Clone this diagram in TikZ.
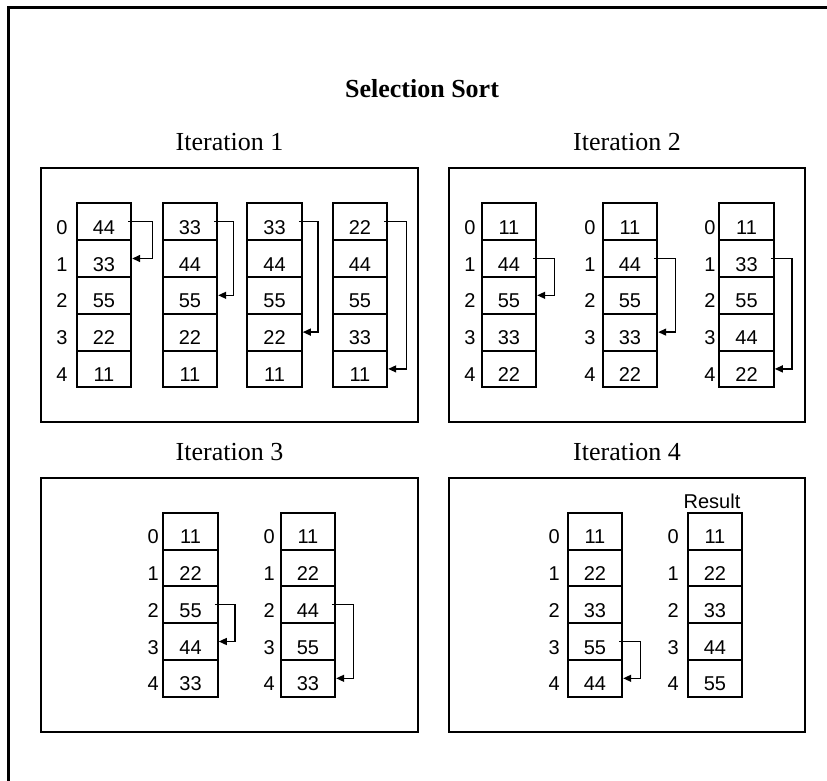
\documentclass[tikz,border=0pt]{standalone}
\usepackage{fontspec}
\setmainfont{Liberation Serif}
\newfontfamily\arialfont{Liberation Sans}
\usetikzlibrary{arrows.meta}
\tikzset{
  frame/.style={line width=3pt},
  panel/.style={line width=2.6pt},
  cell/.style={draw, line width=2pt, minimum width=54.5pt, minimum height=36.8pt,
    inner sep=0pt, text height=31pt, text depth=5.8pt,
    font=\arialfont\fontsize{20}{24}\selectfont},
  idx/.style={anchor=base, inner sep=0pt, font=\arialfont\fontsize{20}{24}\selectfont},
  ttl/.style={anchor=base, inner sep=0pt, font=\bfseries\fontsize{26}{30}\selectfont},
  iter/.style={anchor=base, inner sep=0pt, font=\fontsize{26}{30}\selectfont},
  swp/.style={line width=1.4pt, -{Triangle[length=8pt,width=7pt]}}
}
\newcommand\sortcol[4]{%
  \foreach \v [count=\i from 0] in {#4}{\node[cell] (#1\i) at (#2+27.25, #3+18.4+36.8*\i) {\v};}}
\newcommand\indices[3]{%
  \foreach \i in {0,...,4}{\node[idx] (#1\i) at (#2, #3+31+36.8*\i) {\i};}}
\newcommand\swaparrow[3]{%
  \draw[swp] ([xshift=-4pt]#1.east) -- ([xshift=#3pt]#1.east) |- (#2.east);}
\begin{document}
\begin{tikzpicture}[x=1pt,y=-1pt]
\useasboundingbox (0,0) rectangle (827,780);
\clip (0,0) rectangle (827,780);
% outer frame (cut off at right and bottom)
\draw[frame] (8,800) -- (8,7) -- (840,7);
% title
\node[ttl] (title) at (422,97.3) {Selection Sort};
% panels
\draw[panel] (41,168) rectangle (418,422);
\draw[panel] (449,168) rectangle (805,422);
\draw[panel] (41,478) rectangle (418,732);
\draw[panel] (449,478) rectangle (805,732);
\node[iter] (it1) at (229.5,150.7) {Iteration 1};
\node[iter] (it2) at (627,150.7) {Iteration 2};
\node[iter] (it3) at (229.5,460.7) {Iteration 3};
\node[iter] (it4) at (627,460.7) {Iteration 4};
% ---- Iteration 1
\indices{pAi}{62}{203.3}
\sortcol{pAa}{76.7}{203.3}{44,33,55,22,11}
\sortcol{pAb}{162.7}{203.3}{33,44,55,22,11}
\sortcol{pAc}{247.3}{203.3}{33,44,55,22,11}
\sortcol{pAd}{332.7}{203.3}{22,44,55,33,11}
\swaparrow{pAa0}{pAa1}{20}
\swaparrow{pAb0}{pAb2}{15}
\swaparrow{pAc0}{pAc3}{15}
\swaparrow{pAd0}{pAd4}{18}
% ---- Iteration 2
\indices{pBi}{470}{203.3}
\indices{pBj}{590}{203.3}
\indices{pBk}{710}{203.3}
\sortcol{pBa}{481.7}{203.3}{11,44,55,33,22}
\sortcol{pBb}{602.7}{203.3}{11,44,55,33,22}
\sortcol{pBc}{719.3}{203.3}{11,33,55,44,22}
\swaparrow{pBa1}{pBa2}{17}
\swaparrow{pBb1}{pBb3}{17}
\swaparrow{pBc1}{pBc4}{17}
% ---- Iteration 3
\indices{pCi}{153.3}{512.7}
\indices{pCj}{269.3}{512.7}
\sortcol{pCa}{163.3}{512.7}{11,22,55,44,33}
\sortcol{pCb}{280.7}{512.7}{11,22,44,55,33}
\swaparrow{pCa2}{pCa3}{16}
\swaparrow{pCb2}{pCb4}{17}
% ---- Iteration 4
\indices{pDi}{554.3}{512.7}
\indices{pDj}{673.3}{512.7}
\sortcol{pDa}{567.7}{512.7}{11,22,33,55,44}
\sortcol{pDb}{687.7}{512.7}{11,22,33,44,55}
\node[idx] (result) at (712,508.3) {Result};
\swaparrow{pDa3}{pDa4}{17}
\end{tikzpicture}
\end{document}
